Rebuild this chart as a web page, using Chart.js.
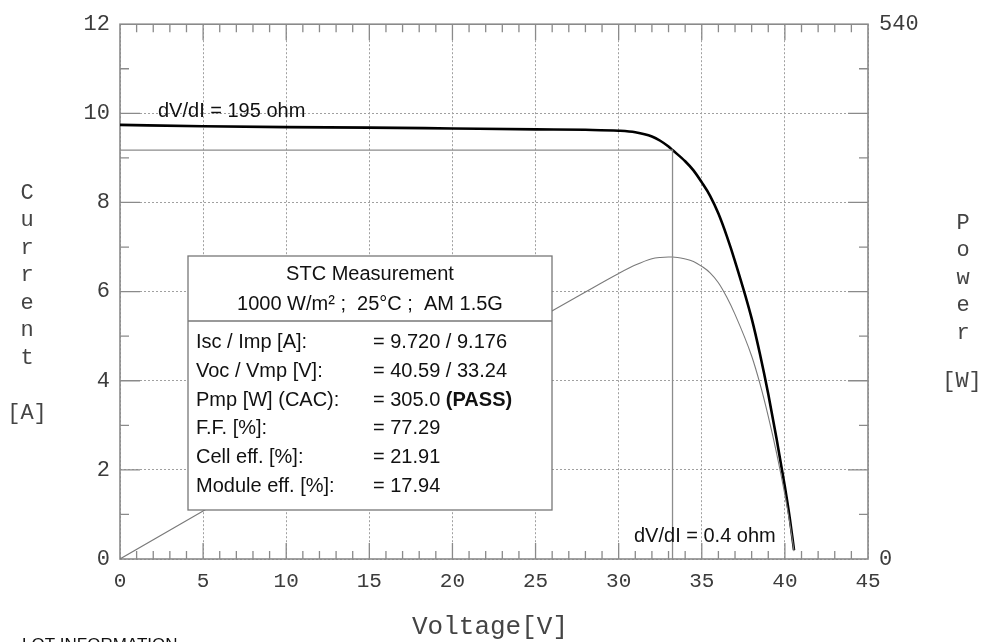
<!DOCTYPE html>
<html>
<head>
<meta charset="utf-8">
<script src="https://cdn.jsdelivr.net/npm/chart.js@4.4.0/dist/chart.umd.min.js"></script>
<style>
  html, body { margin: 0; padding: 0; background: #fff; }
</style>
</head>
<body>
<canvas id="iv" width="981" height="642"></canvas>
<script>
// values
const voltage = [0, 5, 10, 15, 20, 25, 28, 30, 31, 32, 32.5, 33, 33.24, 34, 34.5, 35, 35.5, 36, 36.5, 37, 38, 38.5, 39, 39.5, 40, 40.3, 40.55];
const current = [9.74, 9.71, 9.69, 9.68, 9.66, 9.64, 9.63, 9.61, 9.575, 9.48, 9.385, 9.255, 9.176, 8.925, 8.72, 8.45, 8.15, 7.75, 7.25, 6.68, 5.4, 4.6, 3.7, 2.7, 1.62, 0.9, 0.2];
const power   = [0, 48.5, 97, 145, 193, 241, 269.6, 288.3, 296.8, 303.2, 304.5, 305, 305, 303, 300.5, 295.5, 289, 279, 264.5, 247, 205, 177, 144, 107, 65, 36, 8];

const vmp = 33.24;
const imp = 9.176;

const headerLines = ['STC Measurement', '1000 W/m\u00b2 ;  25\u00b0C ;  AM 1.5G'];
const summaryRows = [
  ['Isc / Imp [A]:', '= 9.720 / 9.176'],
  ['Voc / Vmp [V]:', '= 40.59 / 33.24'],
  ['Pmp [W] (CAC):', '= 305.0 ', '(PASS)'],
  ['F.F. [%]:', '= 77.29'],
  ['Cell eff. [%]:', '= 21.91'],
  ['Module eff. [%]:', '= 17.94']
];

const mono = '"Liberation Mono", "Courier New", monospace';
const sans = '"Liberation Sans", Arial, sans-serif';

// inward ticks, border, text box and axis titles
const sheet = {
  id: 'sheet',
  beforeDatasetsDraw(chart) {
    const { ctx, chartArea: a, scales: { x, y } } = chart;
    ctx.save();
    ctx.strokeStyle = '#8a8a8a';
    ctx.lineWidth = 1.3;
    ctx.beginPath();
    for (let v = 1; v < 45; v++) {
      const px = x.getPixelForValue(v);
      const len = v % 5 === 0 ? 16 : 8;
      ctx.moveTo(px, a.top); ctx.lineTo(px, a.top + len);
      ctx.moveTo(px, a.bottom); ctx.lineTo(px, a.bottom - len);
    }
    for (let v = 1; v < 12; v++) {
      const py = y.getPixelForValue(v);
      const len = v % 2 === 0 ? 20 : 9;
      ctx.moveTo(a.left, py); ctx.lineTo(a.left + len, py);
      ctx.moveTo(a.right, py); ctx.lineTo(a.right - len, py);
    }
    ctx.stroke();
    ctx.lineWidth = 1.6;
    ctx.strokeRect(a.left, a.top, a.right - a.left, a.bottom - a.top);
    ctx.restore();
  },
  afterDatasetsDraw(chart) {
    const { ctx, chartArea: a } = chart;
    ctx.save();
    ctx.fillStyle = '#111';
    ctx.font = '20px ' + sans;
    ctx.textBaseline = 'alphabetic';
    ctx.fillText('dV/dI = 195 ohm', a.left + 38, 117);
    ctx.fillText('dV/dI = 0.4 ohm', a.left + 514, 542);

    // measurement box
    const bx = 188, by = 256, bw = 364, bh = 254;
    ctx.fillStyle = '#fff';
    ctx.fillRect(bx, by, bw, bh);
    ctx.strokeStyle = '#777';
    ctx.lineWidth = 1.3;
    ctx.strokeRect(bx, by, bw, bh);
    ctx.beginPath();
    ctx.moveTo(bx, 321); ctx.lineTo(bx + bw, 321);
    ctx.stroke();

    ctx.fillStyle = '#111';
    ctx.textAlign = 'center';
    ctx.fillText(headerLines[0], bx + bw / 2, 280);
    ctx.fillText(headerLines[1], bx + bw / 2, 310);
    ctx.textAlign = 'left';
    summaryRows.forEach((r, i) => {
      const ty = 348 + i * 28.8;
      ctx.font = '20px ' + sans;
      ctx.fillText(r[0], 196, ty);
      ctx.fillText(r[1], 373, ty);
      if (r[2]) {
        const w = ctx.measureText(r[1]).width;
        ctx.font = 'bold 20px ' + sans;
        ctx.fillText(r[2], 373 + w, ty);
      }
    });
    ctx.restore();
  },
  afterDraw(chart) {
    const { ctx, chartArea: a } = chart;
    ctx.save();
    ctx.fillStyle = '#444';
    ctx.font = '22px ' + mono;
    ctx.textAlign = 'center';
    ctx.textBaseline = 'middle';
    'Current'.split('').forEach((c, i) => ctx.fillText(c, 27, 193 + i * 27.5));
    ctx.fillText('[A]', 27, 413);
    'Power'.split('').forEach((c, i) => ctx.fillText(c, 963, 223 + i * 27.5));
    ctx.fillText('[W]', 962, 381);
    ctx.font = '26px ' + mono;
    ctx.fillText('Voltage[V]', (a.left + a.right) / 2 - 4, 627);

    ctx.fillStyle = '#111';
    ctx.font = '17px ' + sans;
    ctx.textAlign = 'left';
    ctx.textBaseline = 'alphabetic';
    ctx.fillText('LOT INFORMATION', 22, 650);
    ctx.restore();
  }
};

const ivPoints = voltage.map((v, i) => ({ x: v, y: current[i] }));
const pPoints = voltage.map((v, i) => ({ x: v, y: power[i] }));

const gridColor = '#a0a0a0';

new Chart(document.getElementById('iv'), {
  type: 'line',
  data: {
    datasets: [
      {
        data: [{ x: 0, y: imp }, { x: vmp, y: imp }, { x: vmp, y: 0 }],
        borderColor: '#8c8c8c',
        borderWidth: 1.3,
        pointRadius: 0,
        tension: 0,
        yAxisID: 'y'
      },
      {
        data: pPoints,
        borderColor: '#7a7a7a',
        borderWidth: 1.1,
        pointRadius: 0,
        cubicInterpolationMode: 'monotone',
        yAxisID: 'y2'
      },
      {
        data: ivPoints,
        borderColor: '#000',
        borderWidth: 2.6,
        pointRadius: 0,
        cubicInterpolationMode: 'monotone',
        yAxisID: 'y'
      }
    ]
  },
  options: {
    responsive: false,
    animation: false,
    layout: { padding: { top: 19, left: 0, right: 0, bottom: 0 } },
    plugins: { legend: { display: false }, tooltip: { enabled: false } },
    scales: {
      x: {
        type: 'linear',
        min: 0,
        max: 45,
        afterFit(s) { s.height = 83; },
        border: { display: false, dash: [2, 2] },
        grid: { color: gridColor, lineWidth: 1, drawTicks: false },
        ticks: { stepSize: 5, padding: 10, color: '#3c3c3c', font: { family: mono, size: 21 } }
      },
      y: {
        min: 0,
        max: 12,
        afterFit(s) { s.width = 120; },
        border: { display: false, dash: [2, 2] },
        grid: { color: gridColor, lineWidth: 1, drawTicks: false },
        ticks: { stepSize: 2, padding: 10, color: '#3c3c3c', font: { family: mono, size: 22 } }
      },
      y2: {
        position: 'right',
        min: 0,
        max: 540,
        afterFit(s) { s.width = 113; },
        border: { display: false },
        grid: { display: false, drawTicks: false },
        ticks: { stepSize: 540, padding: 11, color: '#3c3c3c', font: { family: mono, size: 22 } }
      }
    }
  },
  plugins: [sheet]
});
</script>
</body>
</html>
